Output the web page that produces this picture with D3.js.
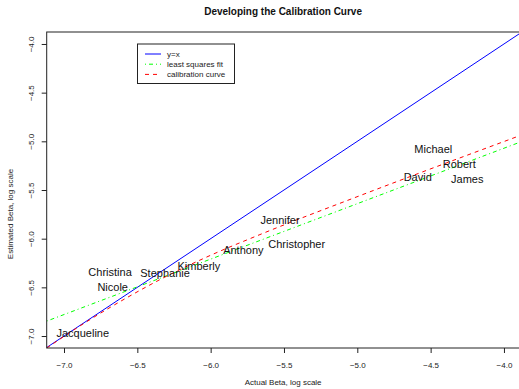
<!DOCTYPE html>
<html>
<head>
<meta charset="utf-8">
<script src="https://cdn.jsdelivr.net/npm/d3@7"></script>
<style>
  body { margin: 0; background: #fff; }
  svg { display: block; font-family: "Liberation Sans", Arial, sans-serif; }
</style>
</head>
<body>
<svg width="519" height="389"></svg>
<script>
// chart data
const names = ["Jacqueline", "Nicole", "Christina", "Stephanie", "Kimberly", "Anthony",
  "Christopher", "Jennifer", "David", "Michael", "Robert", "James"];
const actual = [-6.872, -6.668, -6.686, -6.311, -6.080, -5.777,
  -5.413, -5.527, -4.588, -4.482, -4.305, -4.250];
const estimated = [-6.967, -6.494, -6.340, -6.357, -6.278, -6.117,
  -6.059, -5.809, -5.370, -5.083, -5.237, -5.391];

// least squares fit: intercept, slope
const lsFit = [-2.793, 0.5695];

// calibration curve
const calX = [-7.118, -6.850, -6.577, -6.305, -6.032, -5.664, -4.982, -3.905];
const calY = [-7.123, -6.857, -6.611, -6.389, -6.192, -5.958, -5.558, -4.949];

const xTicks = [-7.0, -6.5, -6.0, -5.5, -5.0, -4.5, -4.0];
const yTicks = [-4.0, -4.5, -5.0, -5.5, -6.0, -6.5, -7.0];

const legendItems = [
  { label: "y=x", color: "#0000ff", dash: null },
  { label: "least squares fit", color: "#00ff00", dash: "1,3,4,3" },
  { label: "calibration curve", color: "#ff0000", dash: "4,4" }
];

const svg = d3.select("svg");
const mLeft = 46.7, mRight = 519.5, mTop = 32, mBottom = 348;

const x = d3.scaleLinear().domain([-7.118, -3.894]).range([mLeft, mRight]);
const y = d3.scaleLinear().domain([-7.123, -3.877]).range([mBottom, mTop]);

// R style minus sign
const fmt = d => d3.format(".1f")(d).replace("-", "\u2212");

const plot = svg.append("g");
plot.append("clipPath").attr("id", "clip")
  .append("rect")
  .attr("x", mLeft).attr("y", mTop)
  .attr("width", mRight - mLeft).attr("height", mBottom - mTop);

const lines = plot.append("g").attr("clip-path", "url(#clip)");
const [x0, x1] = x.domain();

// y = x
lines.append("line")
  .attr("x1", x(x0)).attr("y1", y(x0))
  .attr("x2", x(x1)).attr("y2", y(x1))
  .attr("stroke", "#0000ff").attr("stroke-width", 1);

// least squares
lines.append("line")
  .attr("x1", x(x0)).attr("y1", y(lsFit[0] + lsFit[1] * x0))
  .attr("x2", x(x1)).attr("y2", y(lsFit[0] + lsFit[1] * x1))
  .attr("stroke", "#00ff00").attr("stroke-width", 1)
  .attr("stroke-dasharray", "1,3,4,3");

// calibration curve
const calLine = d3.line()
  .x(d => x(d[0]))
  .y(d => y(d[1]))
  .curve(d3.curveMonotoneX);
lines.append("path")
  .datum(calX.map((v, i) => [v, calY[i]]))
  .attr("d", calLine)
  .attr("fill", "none")
  .attr("stroke", "#ff0000").attr("stroke-width", 1)
  .attr("stroke-dasharray", "4,4");

// name labels
plot.append("g")
  .selectAll("text")
  .data(names)
  .join("text")
  .attr("x", (d, i) => x(actual[i]))
  .attr("y", (d, i) => y(estimated[i]))
  .attr("dy", "0.36em")
  .attr("text-anchor", "middle")
  .attr("font-size", 11)
  .attr("fill", "#111")
  .text(d => d);

// box
svg.append("rect")
  .attr("x", mLeft).attr("y", mTop)
  .attr("width", mRight - mLeft).attr("height", mBottom - mTop)
  .attr("fill", "none").attr("stroke", "#222").attr("stroke-width", 1);

// axes
const xAxis = svg.append("g")
  .attr("transform", `translate(0,${mBottom})`)
  .call(d3.axisBottom(x).tickValues(xTicks).tickFormat(fmt).tickSizeOuter(0).tickSize(5).tickPadding(9));
const yAxis = svg.append("g")
  .attr("transform", `translate(${mLeft},0)`)
  .call(d3.axisLeft(y).tickValues(yTicks).tickFormat(fmt).tickSizeOuter(0).tickSize(5));

[xAxis, yAxis].forEach(a => {
  a.select(".domain").remove();
  a.selectAll("line").attr("stroke", "#222");
  a.selectAll("text").attr("font-size", 8).attr("fill", "#222")
    .attr("font-family", "Liberation Sans, Arial, sans-serif");
});

yAxis.selectAll(".tick text")
  .attr("x", null).attr("dy", null)
  .attr("text-anchor", "middle")
  .attr("transform", "translate(-13,0) rotate(-90)");

// axis titles
svg.append("text")
  .attr("x", (mLeft + mRight) / 2).attr("y", 385)
  .attr("text-anchor", "middle").attr("font-size", 8).attr("fill", "#222")
  .text("Actual Beta, log scale");

svg.append("text")
  .attr("transform", `translate(13,${(mTop + mBottom) / 2 + 24}) rotate(-90)`)
  .attr("text-anchor", "middle").attr("font-size", 8).attr("fill", "#222")
  .text("Estimated Beta, log scale");

svg.append("text")
  .attr("x", (mLeft + mRight) / 2).attr("y", 15)
  .attr("text-anchor", "middle").attr("font-size", 10).attr("font-weight", "bold")
  .attr("fill", "#111")
  .text("Developing the Calibration Curve");

// legend
const legend = svg.append("g");
legend.append("rect")
  .attr("x", 137.5).attr("y", 44).attr("width", 97).attr("height", 39.5)
  .attr("fill", "#fff").attr("stroke", "#222").attr("stroke-width", 1);

const rows = legend.selectAll("g.row")
  .data(legendItems)
  .join("g")
  .attr("class", "row")
  .attr("transform", (d, i) => `translate(0,${54 + i * 10.2})`);
rows.append("line")
  .attr("x1", 145).attr("x2", 161)
  .attr("stroke", d => d.color).attr("stroke-width", 1)
  .attr("stroke-dasharray", d => d.dash);
rows.append("text")
  .attr("x", 167).attr("dy", "0.35em")
  .attr("font-size", 8).attr("fill", "#222")
  .text(d => d.label);
</script>
</body>
</html>
